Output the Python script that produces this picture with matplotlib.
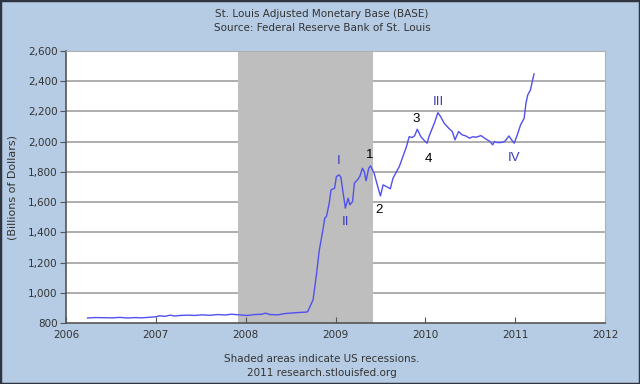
import matplotlib.pyplot as plt
from matplotlib.patches import Rectangle
from matplotlib.ticker import FuncFormatter

# Adjusted monetary base, billions of dollars
years = [2006.24, 2006.32, 2006.43, 2006.51, 2006.60, 2006.69, 2006.77, 2006.84,
         2006.93, 2007.01, 2007.04, 2007.10, 2007.16, 2007.21, 2007.27, 2007.36,
         2007.43, 2007.52, 2007.60, 2007.69, 2007.77, 2007.84, 2007.91, 2007.96,
         2008.02, 2008.10, 2008.18, 2008.22, 2008.27, 2008.36, 2008.43, 2008.51,
         2008.60, 2008.67, 2008.69, 2008.75, 2008.79, 2008.82, 2008.86, 2008.88,
         2008.90, 2008.93, 2008.95, 2008.99, 2009.01, 2009.04, 2009.06, 2009.08,
         2009.11, 2009.14, 2009.16, 2009.19, 2009.21, 2009.25, 2009.27, 2009.30,
         2009.32, 2009.34, 2009.37, 2009.39, 2009.43, 2009.47, 2009.50, 2009.53,
         2009.58, 2009.61, 2009.64, 2009.67, 2009.71, 2009.75, 2009.79, 2009.82,
         2009.85, 2009.88, 2009.91, 2009.95, 2009.99, 2010.02, 2010.04, 2010.07,
         2010.10, 2010.14, 2010.17, 2010.21, 2010.26, 2010.30, 2010.33, 2010.37,
         2010.41, 2010.45, 2010.49, 2010.53, 2010.56, 2010.62, 2010.66, 2010.69,
         2010.72, 2010.75, 2010.77, 2010.80, 2010.84, 2010.88, 2010.90, 2010.93,
         2010.96, 2010.99, 2011.03, 2011.06, 2011.10, 2011.12, 2011.14, 2011.17,
         2011.19, 2011.21]
base = [833, 836, 835, 834, 837, 833, 836, 834,
        838, 842, 848, 844, 852, 846, 850, 852,
        850, 854, 851, 856, 853, 858, 855, 852,
        850, 856, 858, 865, 856, 854, 862, 866,
        870, 872, 875, 953, 1130, 1284, 1417, 1494,
        1505, 1593, 1681, 1692, 1769, 1780, 1765, 1681,
        1560, 1626, 1582, 1604, 1725, 1752, 1769, 1824,
        1802, 1741, 1824, 1840, 1791, 1703, 1641, 1714,
        1699, 1688, 1758, 1791, 1835, 1901, 1967, 2033,
        2027, 2038, 2082, 2033, 2007, 1990, 2033, 2078,
        2122, 2192, 2166, 2122, 2089, 2067, 2012, 2067,
        2045, 2038, 2023, 2033, 2029, 2040, 2023, 2012,
        2001, 1979, 2001, 1994, 1994, 2001, 2012, 2038,
        2012, 1990, 2056, 2111, 2155, 2254, 2309, 2342,
        2397, 2448]

recession = (2007.917, 2009.417)

# wave labels: text, year, value, colour
wave_labels = ["I", "II", "1", "2", "3", "4", "III", "IV"]
wave_x = [2009.04, 2009.11, 2009.38, 2009.48, 2009.90, 2010.03, 2010.15, 2010.99]
wave_y = [1874, 1468, 1910, 1550, 2148, 1886, 2265, 1894]
wave_colors = ["#3c3cb4", "#3c3cb4", "black", "black", "black", "black", "#3c3cb4", "#3c3cb4"]

bg = "#b5cce4"
txt = "#333333"

fig = plt.figure(figsize=(6.4, 3.84), dpi=100, facecolor=bg)
ax = fig.add_axes([66 / 640, 1 - 323 / 384, (605 - 66) / 640, (323 - 51) / 384])
ax.set_facecolor("white")

ax.axvspan(recession[0], recession[1], color="#bebebe", zorder=1, lw=0)
for v in range(1000, 2601, 200):
    ax.axhline(v, color="#a8a8a8", lw=1.3, zorder=0)
ax.plot(years, base, color="#5050f0", lw=1.0, zorder=3)

for t, x, y, c in zip(wave_labels, wave_x, wave_y, wave_colors):
    ax.text(x, y, t, color=c, fontsize=9.5, ha="center", va="center",
            family="Liberation Sans", zorder=4)

ax.set_xlim(2006, 2012)
ax.set_ylim(800, 2600)
ax.set_xticks(range(2006, 2013))
ax.set_yticks(range(800, 2601, 200))
ax.yaxis.set_major_formatter(FuncFormatter(lambda v, p: f"{int(v):,}"))
ax.tick_params(axis="y", direction="out", length=4, color="#555555",
               labelsize=7.5, labelcolor=txt, pad=2)
ax.tick_params(axis="x", direction="in", length=4, color="#555555",
               labelsize=7.5, labelcolor=txt, pad=5)
for s in ["left", "bottom"]:
    ax.spines[s].set_color("#555555")
    ax.spines[s].set_linewidth(1.2)
for s in ["top", "right"]:
    ax.spines[s].set_color("#b0b0b0")

ax.set_ylabel("(Billions of Dollars)", fontsize=8, color=txt)
ax.yaxis.set_label_coords(-0.09, 0.5)

fig.text(0.503, 1 - 14 / 384, "St. Louis Adjusted Monetary Base (BASE)",
         ha="center", va="center", fontsize=7.5, color=txt)
fig.text(0.503, 1 - 28 / 384, "Source: Federal Reserve Bank of St. Louis",
         ha="center", va="center", fontsize=7.5, color=txt)
fig.text(0.503, 1 - 359 / 384, "Shaded areas indicate US recessions.",
         ha="center", va="center", fontsize=7.5, color=txt)
fig.text(0.503, 1 - 373 / 384, "2011 research.stlouisfed.org",
         ha="center", va="center", fontsize=7.5, color=txt)

fig.patches.append(Rectangle((0, 0), 1, 1, transform=fig.transFigure,
                             fill=False, edgecolor="#2e3540", lw=2.5))

fig.savefig("out.png", dpi=100, facecolor=bg)
